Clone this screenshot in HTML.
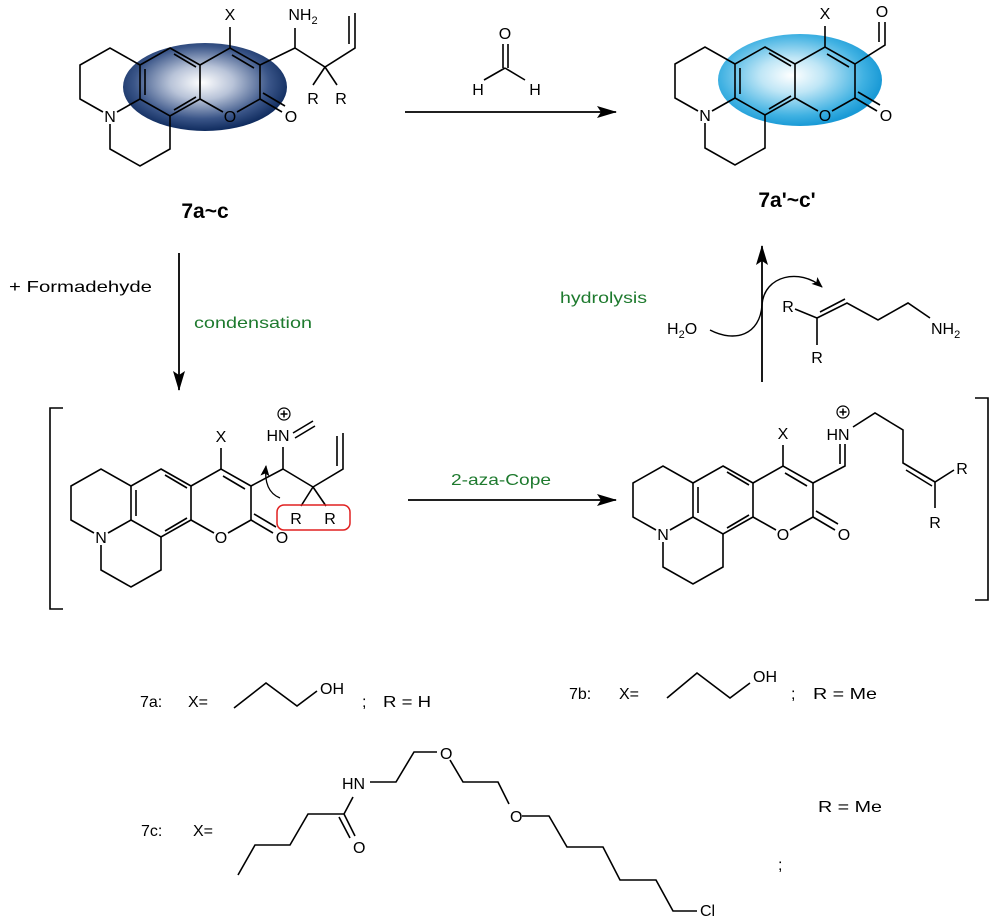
<!DOCTYPE html>
<html><head><meta charset="utf-8"><style>
html,body{margin:0;padding:0;background:#fff;}
svg{display:block;}
text{font-family:"Liberation Sans",Arial,sans-serif;fill:#000;}
</style></head><body>
<svg width="1000" height="918" viewBox="0 0 1000 918" xmlns="http://www.w3.org/2000/svg">
<defs>
<radialGradient id="dk" cx="48%" cy="45%" r="55%">
<stop offset="0" stop-color="#ffffff"/><stop offset="0.35" stop-color="#b8c3d8"/><stop offset="0.75" stop-color="#3a5588"/><stop offset="1" stop-color="#0f2b5e"/>
</radialGradient>
<radialGradient id="lt" cx="45%" cy="45%" r="55%">
<stop offset="0" stop-color="#ffffff"/><stop offset="0.35" stop-color="#bfe6f6"/><stop offset="0.8" stop-color="#3fb1e2"/><stop offset="1" stop-color="#1a9ad6"/>
</radialGradient>
<marker id="ah" markerWidth="20" markerHeight="12" refX="19" refY="6" orient="auto" markerUnits="userSpaceOnUse">
<path d="M0,0 L20,6 L0,12 L4,6 Z" fill="#000"/></marker>
<marker id="sah" markerWidth="11" markerHeight="9" refX="10" refY="4.5" orient="auto" markerUnits="userSpaceOnUse">
<path d="M0,0 L11,4.5 L0,9 L2.5,4.5 Z" fill="#000"/></marker>
<g id="sk" fill="none" stroke="#000" stroke-width="1.6">
<path d="M0,-34 L30,-17 L30,17 L0,34 L-30,17 L-30,-17 Z"/>
<path d="M4,-28 L26,-15 M26,15 L4,28 M-25,13 L-25,-13"/>
<path d="M-30,-17 L-60,-34 L-90,-17 L-90,17 L-67,30 M-53,30 L-30,17 M-60,42 L-60,67 L-30,84 L0,67 L0,34"/>
<path d="M30,-17 L60,-34 L90,-17 L90,17 L67,30 M53,30 L30,17 M62,-27 L84,-14"/>
<path d="M90,17 L112,30 M93,11 L115,24 M60,-34 L60,-55"/>
</g>
</defs>

<!-- Structure 1 -->
<ellipse cx="205" cy="87" rx="82" ry="44" fill="url(#dk)"/>
<use href="#sk" transform="translate(170,82)"/>
<g font-size="16" text-anchor="middle">
<text x="110" y="122">N</text><text x="230" y="122">O</text><text x="291" y="122">O</text><text x="230" y="20">X</text>
<text x="303" y="20">NH<tspan font-size="11" dy="4">2</tspan></text>
<text x="313" y="104">R</text><text x="341" y="104">R</text>
</g>
<path d="M260,65 L295,48 L295,28 M295,48 L325,67 L355,48 L355,13 M349,44 L349,16 M325,67 L313,85 M325,67 L337,85" fill="none" stroke="#000" stroke-width="1.6"/>
<text x="205" y="218" font-size="21" font-weight="bold" text-anchor="middle">7a~c</text>

<!-- Formaldehyde + top arrow -->
<text x="505" y="39" font-size="16" text-anchor="middle">O</text>
<path d="M503,44 L503,68 M508,44 L508,68 M505,68 L484,80 M505,68 L525,80" stroke="#000" stroke-width="1.6" fill="none"/>
<text x="478" y="95" font-size="16" text-anchor="middle">H</text><text x="535" y="95" font-size="16" text-anchor="middle">H</text>
<line x1="405" y1="112" x2="616" y2="112" stroke="#000" stroke-width="1.8" marker-end="url(#ah)"/>

<!-- Structure 4 -->
<ellipse cx="800" cy="80" rx="82" ry="46" fill="url(#lt)"/>
<use href="#sk" transform="translate(765,81)"/>
<g font-size="16" text-anchor="middle">
<text x="705" y="121">N</text><text x="825" y="121">O</text><text x="886" y="121">O</text><text x="825" y="19">X</text>
<text x="882" y="17">O</text>
</g>
<path d="M855,64 L885,45 L885,22 M879,42 L879,22" fill="none" stroke="#000" stroke-width="1.6"/>
<text x="787" y="207" font-size="21" font-weight="bold" text-anchor="middle">7a'~c'</text>

<!-- Down arrow -->
<line x1="179" y1="253" x2="179" y2="390" stroke="#000" stroke-width="1.8" marker-end="url(#ah)"/>
<text x="9" y="292" font-size="16" textLength="143" lengthAdjust="spacingAndGlyphs">+ Formadehyde</text>
<text x="194" y="328" font-size="16" textLength="118" lengthAdjust="spacingAndGlyphs" style="fill:#1e7a2e">condensation</text>

<!-- Hydrolysis -->
<line x1="762" y1="382" x2="762" y2="246" stroke="#000" stroke-width="1.8" marker-end="url(#ah)"/>
<text x="560" y="303" font-size="16" textLength="87" lengthAdjust="spacingAndGlyphs" style="fill:#1e7a2e">hydrolysis</text>
<text x="667" y="334" font-size="16">H<tspan font-size="11" dy="4">2</tspan><tspan dy="-4">O</tspan></text>
<path d="M710,330 C735,343 760,335 762,305 C764,275 800,268 822,287" fill="none" stroke="#000" stroke-width="1.4" marker-end="url(#sah)"/>
<g font-size="16" text-anchor="middle"><text x="788" y="312">R</text><text x="817" y="363">R</text></g>
<text x="931" y="334" font-size="16">NH<tspan font-size="11" dy="4">2</tspan></text>
<path d="M795,309 L817,318 L817,345 M817,318 L847,303 L878,320 L908,303 L930,318 M820,312 L845,299" fill="none" stroke="#000" stroke-width="1.6"/>

<!-- Structure 2 -->
<path d="M63,408 L50,408 L50,609 L63,609" fill="none" stroke="#000" stroke-width="1.6"/>
<use href="#sk" transform="translate(161,503)"/>
<g font-size="16" text-anchor="middle">
<text x="101" y="543">N</text><text x="221" y="543">O</text><text x="282" y="543">O</text><text x="221" y="442">X</text>
<text x="278" y="441">HN</text>
<text x="296" y="524">R</text><text x="330" y="524">R</text>
</g>
<circle cx="284" cy="414" r="6" fill="none" stroke="#000" stroke-width="1.2"/>
<path d="M280.5,414 L287.5,414 M284,410.5 L284,417.5" stroke="#000" stroke-width="1.5"/>
<path d="M251,486 L283,469 L283,447 M293,433 L313,421 M295,438 L315,426 M283,469 L313,487 L343,469 L343,433 M337,466 L337,436 M313,487 L301,506 M313,487 L326,506" fill="none" stroke="#000" stroke-width="1.6"/>
<rect x="277" y="505" width="73" height="25" rx="7" fill="none" stroke="#e02020" stroke-width="1.5"/>
<path d="M280,498 C270,494 264,485 266,466" fill="none" stroke="#000" stroke-width="1.3" marker-end="url(#sah)"/>

<!-- aza-Cope arrow -->
<line x1="408" y1="500" x2="616" y2="500" stroke="#000" stroke-width="1.8" marker-end="url(#ah)"/>
<text x="451" y="485" font-size="16" textLength="100" lengthAdjust="spacingAndGlyphs" style="fill:#1e7a2e">2-aza-Cope</text>

<!-- Structure 3 -->
<use href="#sk" transform="translate(723,500)"/>
<g font-size="16" text-anchor="middle">
<text x="663" y="540">N</text><text x="783" y="540">O</text><text x="844" y="540">O</text><text x="783" y="439">X</text>
<text x="838" y="440">HN</text>
<text x="962" y="474">R</text><text x="935" y="528">R</text>
</g>
<circle cx="843" cy="412" r="6" fill="none" stroke="#000" stroke-width="1.2"/>
<path d="M839.5,412 L846.5,412 M843,408.5 L843,415.5" stroke="#000" stroke-width="1.5"/>
<path d="M813,483 L845,466 L845,444 M840,464 L840,444 M853,427 L875,413 L903,430 L903,463 L935,482 L954,470 M906,470 L932,486 M935,482 L935,508" fill="none" stroke="#000" stroke-width="1.6"/>
<path d="M975,398 L988,398 L988,600 L975,600" fill="none" stroke="#000" stroke-width="1.6"/>

<!-- bottom definitions -->
<g font-size="16">
<text x="140" y="707">7a:</text><text x="188" y="707">X=</text>
<text x="320" y="694">OH</text><text x="362" y="707">;</text><text x="383" y="707" textLength="48" lengthAdjust="spacingAndGlyphs">R = H</text>
<text x="569" y="699">7b:</text><text x="619" y="699">X=</text>
<text x="753" y="682">OH</text><text x="791" y="699">;</text><text x="813" y="699" textLength="64" lengthAdjust="spacingAndGlyphs">R = Me</text>
<text x="141" y="836">7c:</text><text x="193" y="836">X=</text>
<text x="342" y="789">HN</text><text x="353" y="853">O</text><text x="440" y="759">O</text><text x="510" y="822">O</text>
<text x="818" y="812" textLength="64" lengthAdjust="spacingAndGlyphs">R = Me</text><text x="778" y="870">;</text>
<text x="700" y="916">Cl</text>
</g>
<path d="M234,708 L266,683 L297,706 L317,691 M667,698 L697,673 L730,698 L750,683" fill="none" stroke="#000" stroke-width="1.6"/>
<path d="M238,875 L255,845 L290,845 L308,814 L344,814 L353,797 M344,814 L355,836 M339,817 L350,838 M370,782 L396,782 L414,752 L437,752 M450,760 L463,782 L498,782 L509,804 M522,816 L549,816 L567,847 L603,847 L620,880 L656,880 L673,911 L697,911" fill="none" stroke="#000" stroke-width="1.6"/>
</svg>
</body></html>
